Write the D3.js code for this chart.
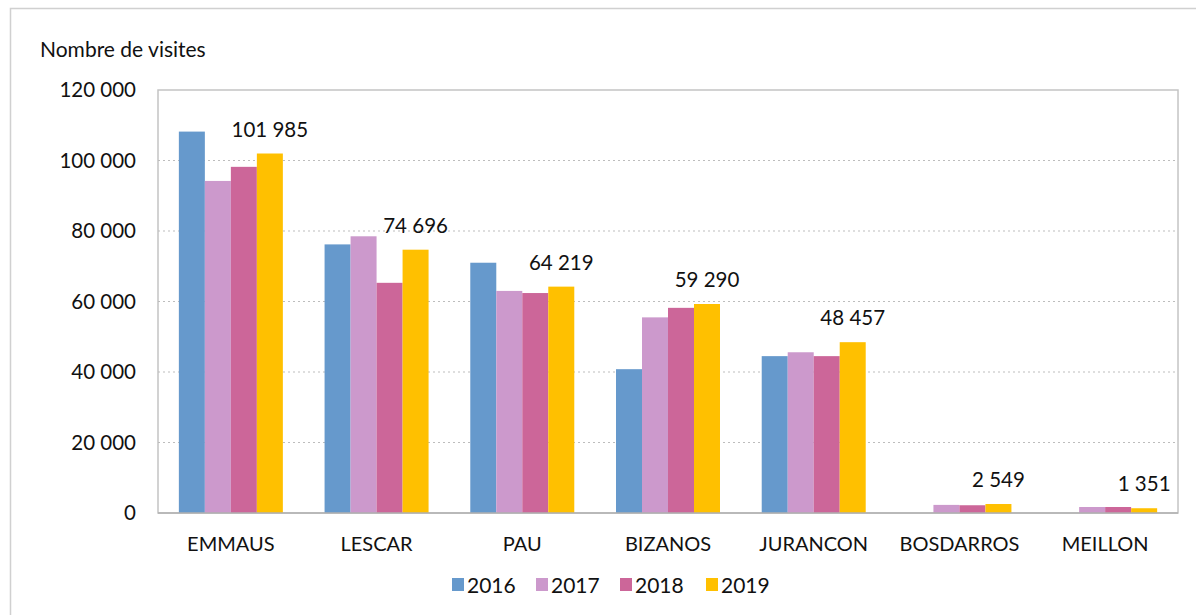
<!DOCTYPE html>
<html>
<head>
<meta charset="utf-8">
<script src="https://d3js.org/d3.v7.min.js"></script>
<style>
  body { margin: 0; background: #fff; }
  text { font-family: Lato, "Open Sans", sans-serif; fill: #111; }
</style>
</head>
<body>
<script>

// data
var communes = ["EMMAUS", "LESCAR", "PAU", "BIZANOS", "JURANCON", "BOSDARROS", "MEILLON"];
var years = ["2016", "2017", "2018", "2019"];
var v2016 = [108200, 76200, 71000, 40800, 44500, 0, 0];
var v2017 = [94200, 78500, 63000, 55500, 45600, 2300, 1700];
var v2018 = [98200, 65300, 62400, 58200, 44500, 2200, 1700];
var v2019 = [101985, 74696, 64219, 59290, 48457, 2549, 1351];
var yTicks = [0, 20000, 40000, 60000, 80000, 100000, 120000];
var colors = ["#6699cc", "#cc99cc", "#cc6699", "#ffc000"];

var series = [v2016, v2017, v2018, v2019];

var W = 1196, H = 615;
var margin = {top: 90, right: 18, bottom: 102, left: 158},
    width = W - margin.left - margin.right,
    height = H - margin.top - margin.bottom;

var svg = d3.select("body").append("svg")
    .attr("width", W)
    .attr("height", H);

// outer frame
svg.append("rect")
    .attr("x", 10.5).attr("y", 8.5)
    .attr("width", W).attr("height", H)
    .attr("fill", "none")
    .attr("stroke", "#d0d0d0")
    .attr("stroke-width", 1.5);

var g = svg.append("g")
    .attr("transform", "translate(" + margin.left + "," + margin.top + ")");

var x0 = d3.scaleBand().domain(communes).range([0, width]).paddingInner(0).paddingOuter(0);
var x1 = d3.scaleBand().domain(years).range([0, 104]);
var y = d3.scaleLinear().domain([0, 120000]).range([height, 0]);

var fmt = function(d) { return d3.format(",")(d).replace(/,/g, " "); };

// plot border
g.append("rect")
    .attr("x", 0).attr("y", 0)
    .attr("width", width).attr("height", height)
    .attr("fill", "none")
    .attr("stroke", "#c4c4c4")
    .attr("stroke-width", 1.5);

// grid lines
g.selectAll(".grid")
    .data(yTicks.filter(function(d) { return d > 0 && d < 120000; }))
  .enter().append("line")
    .attr("x1", 0).attr("x2", width)
    .attr("y1", function(d) { return y(d); })
    .attr("y2", function(d) { return y(d); })
    .attr("stroke", "#bdbdbd")
    .attr("stroke-dasharray", "2,3");

// y axis labels
var yAxis = d3.axisLeft(y).tickValues(yTicks).tickSize(0).tickPadding(22).tickFormat(fmt);
var ya = g.append("g").call(yAxis);
ya.select(".domain").remove();
ya.selectAll("text").style("font-size", "20.5px").attr("fill", "#111");

// bars
var groups = g.selectAll(".cat")
    .data(communes)
  .enter().append("g")
    .attr("transform", function(d) { return "translate(" + (x0(d) + (x0.bandwidth() - 104) / 2) + ",0)"; });

groups.selectAll("rect")
    .data(function(d, i) { return years.map(function(yr, j) { return {yr: yr, v: series[j][i]}; }); })
  .enter().append("rect")
    .filter(function(d) { return d.v > 0; })
    .attr("x", function(d) { return x1(d.yr); })
    .attr("width", x1.bandwidth())
    .attr("y", function(d) { return y(d.v); })
    .attr("height", function(d) { return height - y(d.v); })
    .attr("fill", function(d, j) { return colors[years.indexOf(d.yr)]; });

// 2019 value labels
groups.append("text")
    .attr("x", x1("2019") + x1.bandwidth() / 2)
    .attr("y", function(d, i) { return y(v2019[i]) - 17; })
    .attr("text-anchor", "middle")
    .style("font-size", "20.5px")
    .text(function(d, i) { return fmt(v2019[i]); });

// baseline
g.append("line")
    .attr("x1", 0).attr("x2", width)
    .attr("y1", height).attr("y2", height)
    .attr("stroke", "#b0b0b0")
    .attr("stroke-width", 1.5);

// x axis labels
var xAxis = d3.axisBottom(x0).tickSize(0).tickPadding(24);
var xa = g.append("g").attr("transform", "translate(0," + height + ")").call(xAxis);
xa.select(".domain").remove();
xa.selectAll("text").style("font-size", "20px").attr("fill", "#111");

// y title
svg.append("text")
    .attr("x", 40).attr("y", 57)
    .style("font-size", "21px")
    .text("Nombre de visites");

// legend
var legX = [452, 536, 620, 706];
var leg = svg.selectAll(".leg")
    .data(years)
  .enter().append("g")
    .attr("transform", function(d, i) { return "translate(" + legX[i] + ",578)"; });
leg.append("rect").attr("width", 12).attr("height", 13)
    .attr("fill", function(d, i) { return colors[i]; });
leg.append("text").attr("x", 15).attr("y", 14.5)
    .style("font-size", "21px")
    .text(function(d) { return d; });

</script>
</body>
</html>
